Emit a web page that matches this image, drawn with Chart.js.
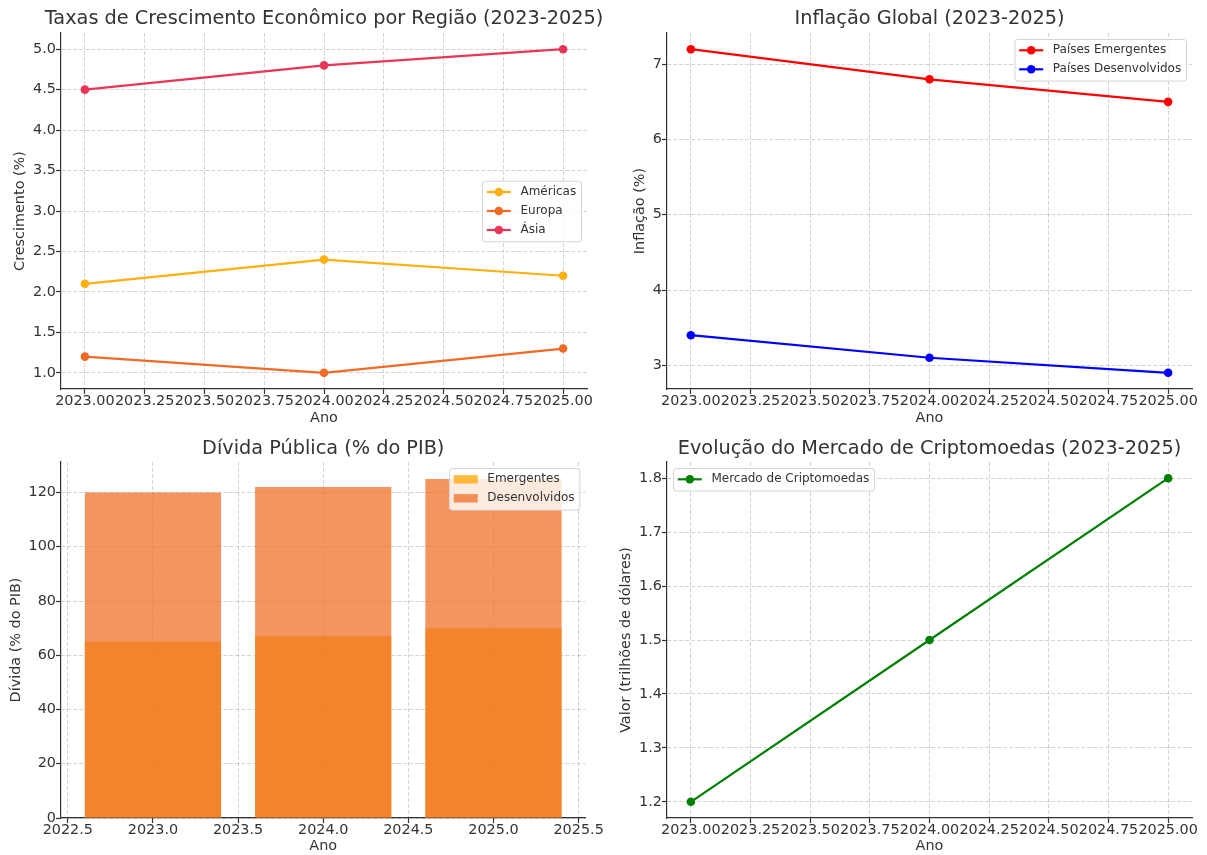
<!DOCTYPE html>
<html lang="pt">
<head>
<meta charset="utf-8">
<title>Indicadores Econômicos 2023-2025</title>
<script src="https://cdn.jsdelivr.net/npm/chart.js@4.4.1/dist/chart.umd.min.js"></script>
<style>
  html, body { margin: 0; padding: 0; background: #fff; }
  #page { position: relative; width: 1207px; height: 855px; overflow: hidden; }
  .panel { position: absolute; }
</style>
</head>
<body>
<div id="page"></div>
<script>
// anos
const anos = [2023, 2024, 2025];
// crescimento económico (%)
const crescAmericas = [2.1, 2.4, 2.2];
const crescEuropa = [1.2, 1.0, 1.3];
const crescAsia = [4.5, 4.8, 5.0];
// inflação (%)
const inflEmergentes = [7.2, 6.8, 6.5];
const inflDesenvolvidos = [3.4, 3.1, 2.9];
// dívida pública (% do PIB)
const dividaEmergentes = [65, 67, 70];
const dividaDesenvolvidos = [120, 122, 125];
// mercado de criptomoedas (trilhões de dólares)
const cripto = [1.2, 1.5, 1.8];

// rótulos dos eixos
const ticksAnoLinha = [2023.0, 2023.25, 2023.5, 2023.75, 2024.0, 2024.25, 2024.5, 2024.75, 2025.0];
const ticksAnoBarra = [2022.5, 2023.0, 2023.5, 2024.0, 2024.5, 2025.0, 2025.5];
const ticksCresc = [1.0, 1.5, 2.0, 2.5, 3.0, 3.5, 4.0, 4.5, 5.0];
const ticksInfl = [3, 4, 5, 6, 7];
const ticksDivida = [0, 20, 40, 60, 80, 100, 120];
const ticksCripto = [1.2, 1.3, 1.4, 1.5, 1.6, 1.7, 1.8];

const TXT = '#333333';
const GRID = 'rgba(0,0,0,0.17)';
const FS = 14.4;

Chart.defaults.font.family = '"DejaVu Sans", sans-serif';
Chart.defaults.color = TXT;

// margem automática de 5% como no matplotlib
function margem(lo, hi) {
    const m = (hi - lo) * 0.05;
    return [lo - m, hi + m];
}

// título do painel centrado sobre a área do gráfico
const axTitle = {
    id: 'axTitle',
    afterDraw(chart, args, opts) {
        const { ctx, chartArea } = chart;
        ctx.save();
        ctx.font = '19.3px "DejaVu Sans"';
        ctx.fillStyle = TXT;
        ctx.textAlign = 'center';
        ctx.textBaseline = 'middle';
        ctx.fillText(opts.text, (chartArea.left + chartArea.right) / 2, opts.y);
        ctx.restore();
    }
};

// legenda dentro dos eixos, estilo matplotlib
const mplLegend = {
    id: 'mplLegend',
    afterDraw(chart, args, opts) {
        const { ctx, chartArea: a } = chart;
        const fs = 12, pad = 0.4 * fs, hl = 2 * fs, htp = 0.8 * fs, rowH = 13, sp = 0.5 * fs, gap = 0.5 * fs;
        const sets = chart.data.datasets;
        ctx.save();
        ctx.font = fs + 'px "DejaVu Sans"';
        const tw = Math.max(...sets.map(d => ctx.measureText(d.label).width));
        const w = 2 * pad + hl + htp + tw;
        const h = 2 * pad + sets.length * rowH + (sets.length - 1) * sp;
        const x = opts.loc.includes('left') ? a.left + gap : a.right - gap - w;
        const y = opts.loc.startsWith('upper') ? a.top + gap : (a.top + a.bottom - h) / 2;

        ctx.beginPath();
        ctx.roundRect(x + 0.5, y + 0.5, w, h, 3);
        ctx.fillStyle = 'rgba(255,255,255,0.8)';
        ctx.fill();
        ctx.strokeStyle = '#d4d4d4';
        ctx.lineWidth = 1;
        ctx.stroke();

        sets.forEach((d, i) => {
            const cy = y + pad + i * (rowH + sp) + rowH / 2;
            const hx = x + pad;
            if (opts.kind === 'box') {
                ctx.fillStyle = d.backgroundColor;
                ctx.fillRect(hx, cy - 0.35 * fs, hl, 0.7 * fs);
            } else {
                ctx.strokeStyle = d.borderColor;
                ctx.lineWidth = d.borderWidth;
                ctx.beginPath();
                ctx.moveTo(hx, cy);
                ctx.lineTo(hx + hl, cy);
                ctx.stroke();
                ctx.fillStyle = d.borderColor;
                ctx.beginPath();
                ctx.arc(hx + hl / 2, cy, d.pointRadius, 0, Math.PI * 2);
                ctx.fill();
            }
            ctx.fillStyle = TXT;
            ctx.textAlign = 'left';
            ctx.textBaseline = 'middle';
            ctx.fillText(d.label, hx + hl + htp, cy);
        });
        ctx.restore();
    }
};

function eixo(range, ticks, fmt, titulo, tituloPad, fit, z, tickPad) {
    return {
        type: 'linear',
        min: range[0],
        max: range[1],
        offset: false,
        z: z || 0,
        afterBuildTicks: s => { s.ticks = ticks.map(v => ({ value: v })); },
        afterFit: fit,
        ticks: {
            autoSkip: false, maxRotation: 0, minRotation: 0, padding: tickPad,
            color: TXT, font: { size: FS },
            callback: v => fmt(v)
        },
        grid: { offset: false, color: GRID, lineWidth: 1, tickLength: 5, tickColor: '#333', tickWidth: 1.2 },
        border: { color: '#333', width: 1.2, dash: [4, 2] },
        title: { display: true, text: titulo, color: TXT, font: { size: FS }, padding: tituloPad }
    };
}

function linha(label, valores, cor) {
    return {
        label: label,
        data: anos.map((a, i) => ({ x: a, y: valores[i] })),
        borderColor: cor,
        backgroundColor: cor,
        borderWidth: 2.2,
        pointRadius: 4.3,
        pointHoverRadius: 4.3,
        pointBorderWidth: 0,
        tension: 0
    };
}

function criarPainel(box, area, spec) {
    const div = document.createElement('div');
    div.className = 'panel';
    div.style.left = box.left + 'px';
    div.style.top = box.top + 'px';
    const canvas = document.createElement('canvas');
    canvas.width = box.width;
    canvas.height = box.height;
    canvas.style.width = box.width + 'px';
    canvas.style.height = box.height + 'px';
    div.appendChild(canvas);
    document.getElementById('page').appendChild(div);

    const half = FS * 1.2 / 2;
    const yFit = s => { s.width = area.left - box.left; };
    const xFit = s => { s.height = box.top + box.height - area.bottom; };
    const yPad = { top: spec.yTitleX - box.left - half, bottom: 0 };
    const xPad = { top: 0, bottom: Math.max(0, box.top + box.height - spec.xTitleY - half) };

    const scales = {
        x: eixo(spec.xRange, spec.xTicks, spec.xFmt, 'Ano', xPad, xFit, spec.z, -1),
        y: eixo(spec.yRange, spec.yTicks, spec.yFmt, spec.yTitle, yPad, yFit, spec.z, 0)
    };
    scales.x.position = 'bottom';
    scales.y.position = 'left';
    if (spec.extraScales) Object.assign(scales, spec.extraScales);

    return new Chart(canvas, {
        type: spec.type,
        data: { datasets: spec.datasets },
        options: {
            responsive: false,
            animation: false,
            events: [],
            layout: {
                padding: { left: 0, bottom: 0, top: area.top - box.top, right: box.left + box.width - area.right }
            },
            scales: scales,
            plugins: {
                legend: { display: false },
                tooltip: { enabled: false },
                axTitle: { text: spec.title, y: spec.titleY - box.top },
                mplLegend: { loc: spec.legendLoc, kind: spec.legendKind }
            }
        },
        plugins: [axTitle, mplLegend]
    });
}

const fmt2 = v => v.toFixed(2);
const fmt1 = v => v.toFixed(1);
const fmt0 = v => v.toFixed(0);

// 1. Crescimento económico
criarPainel(
    { left: 0, top: 0, width: 603, height: 430 },
    { left: 61, top: 33, right: 587, bottom: 389 },
    {
        type: 'line',
        title: 'Taxas de Crescimento Econômico por Região (2023-2025)', titleY: 19,
        xRange: margem(2023, 2025), xTicks: ticksAnoLinha, xFmt: fmt2, xTitleY: 418,
        yRange: margem(1.0, 5.0), yTicks: ticksCresc, yFmt: fmt1, yTitle: 'Crescimento (%)', yTitleX: 20,
        legendLoc: 'center right',
        datasets: [
            linha('Américas', crescAmericas, '#FDB00F'),
            linha('Europa', crescEuropa, '#F06A24'),
            linha('Ásia', crescAsia, '#EA3558')
        ]
    }
);

// 2. Inflação global
criarPainel(
    { left: 603, top: 0, width: 604, height: 430 },
    { left: 667, top: 33, right: 1192, bottom: 389 },
    {
        type: 'line',
        title: 'Inflação Global (2023-2025)', titleY: 19,
        xRange: margem(2023, 2025), xTicks: ticksAnoLinha, xFmt: fmt2, xTitleY: 418,
        yRange: margem(2.9, 7.2), yTicks: ticksInfl, yFmt: fmt0, yTitle: 'Inflação (%)', yTitleX: 640,
        legendLoc: 'upper right',
        datasets: [
            linha('Países Emergentes', inflEmergentes, '#FF0000'),
            linha('Países Desenvolvidos', inflDesenvolvidos, '#0000FF')
        ]
    }
);

// 3. Dívida pública (barras sobrepostas)
const barraX = margem(anos[0] - 0.4, anos[anos.length - 1] + 0.4);
criarPainel(
    { left: 0, top: 430, width: 603, height: 425 },
    { left: 61, top: 462, right: 587, bottom: 818 },
    {
        type: 'bar',
        z: 1,
        title: 'Dívida Pública (% do PIB)', titleY: 449,
        xRange: barraX, xTicks: ticksAnoBarra, xFmt: fmt1, xTitleY: 847,
        yRange: [0, Math.max(...dividaDesenvolvidos) * 1.05], yTicks: ticksDivida, yFmt: fmt0, yTitle: 'Dívida (% do PIB)', yTitleX: 16,
        legendLoc: 'upper right', legendKind: 'box',
        extraScales: {
            xb: {
                type: 'linear', display: false, position: 'bottom', offset: false,
                min: barraX[0], max: barraX[1],
                afterBuildTicks: s => { s.ticks = anos.map(v => ({ value: v })); }
            }
        },
        datasets: [
            {
                label: 'Emergentes', xAxisID: 'xb', order: 2,
                data: anos.map((a, i) => ({ x: a, y: dividaEmergentes[i] })),
                backgroundColor: 'rgba(255,165,0,0.75)', borderWidth: 0,
                grouped: false, barPercentage: 0.8, categoryPercentage: 1
            },
            {
                label: 'Desenvolvidos', xAxisID: 'xb', order: 1,
                data: anos.map((a, i) => ({ x: a, y: dividaDesenvolvidos[i] })),
                backgroundColor: 'rgba(240,112,40,0.75)', borderWidth: 0,
                grouped: false, barPercentage: 0.8, categoryPercentage: 1
            }
        ]
    }
);

// 4. Mercado de criptomoedas
criarPainel(
    { left: 603, top: 430, width: 604, height: 425 },
    { left: 667, top: 462, right: 1192, bottom: 818 },
    {
        type: 'line',
        title: 'Evolução do Mercado de Criptomoedas (2023-2025)', titleY: 449,
        xRange: margem(2023, 2025), xTicks: ticksAnoLinha, xFmt: fmt2, xTitleY: 847,
        yRange: margem(1.2, 1.8), yTicks: ticksCripto, yFmt: fmt1, yTitle: 'Valor (trilhões de dólares)', yTitleX: 626,
        legendLoc: 'upper left',
        datasets: [
            linha('Mercado de Criptomoedas', cripto, '#008000')
        ]
    }
);
</script>
</body>
</html>
